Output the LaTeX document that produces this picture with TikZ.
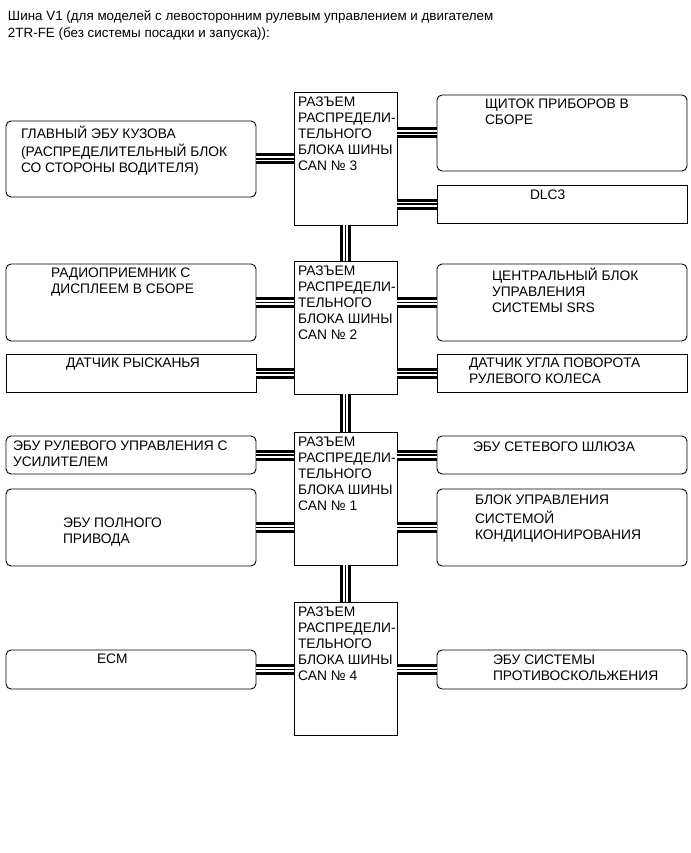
\documentclass[tikz,border=0pt]{standalone}
\usepackage{fontspec}
\setmainfont{Liberation Sans}
\begin{document}
\begin{tikzpicture}[x=1pt,y=-1pt,
  every node/.style={inner sep=0pt, outer sep=0pt},
  rbox/.style={draw, line width=0.9pt, rounded corners=5pt, anchor=north west},
  sbox/.style={draw, line width=0.9pt, anchor=north west},
  canbox/.style={draw, line width=0.9pt, anchor=north west, minimum width=103pt, minimum height=133pt},
  txt/.style={anchor=north west, align=left, font=\fontsize{13.8}{16}\selectfont},
  ttl/.style={anchor=north west, align=left, font=\fontsize{13.4}{17}\selectfont},
  bus/.style={draw=black, line width=11pt, postaction={draw=white, line width=5pt}, postaction={draw=black, line width=1.6pt}}
]
\useasboundingbox (0,0) rectangle (690,853);
% title
\node[ttl] (title) at (8,8.6) {\strut Шина V1 (для моделей с левосторонним рулевым управлением и двигателем\\2TR-FE (без системы посадки и запуска)):};

% CAN junction boxes
\node[canbox] (can3) at (294,92) {};
\node[canbox] (can2) at (294,261) {};
\node[canbox] (can1) at (294,432) {};
\node[canbox] (can4) at (294,602) {};
\node[txt] (t3) at (298,95.4) {\strut РАЗЪЕМ\\РАСПРЕДЕЛИ-\\ТЕЛЬНОГО\\БЛОКА ШИНЫ\\CAN № 3};
\node[txt] (t2) at (298,264.4) {\strut РАЗЪЕМ\\РАСПРЕДЕЛИ-\\ТЕЛЬНОГО\\БЛОКА ШИНЫ\\CAN № 2};
\node[txt] (t1) at (298,435.4) {\strut РАЗЪЕМ\\РАСПРЕДЕЛИ-\\ТЕЛЬНОГО\\БЛОКА ШИНЫ\\CAN № 1};
\node[txt] (t4) at (298,605.4) {\strut РАЗЪЕМ\\РАСПРЕДЕЛИ-\\ТЕЛЬНОГО\\БЛОКА ШИНЫ\\CAN № 4};

% left boxes
\node[rbox, minimum width=250pt, minimum height=76pt] (gl) at (6,121) {};
\node[rbox, minimum width=250pt, minimum height=77pt] (radio) at (6,264) {};
\node[sbox, minimum width=250pt, minimum height=38pt] (rys) at (6,354) {};
\node[rbox, minimum width=250pt, minimum height=38pt] (rul) at (6,436) {};
\node[rbox, minimum width=250pt, minimum height=77pt] (poln) at (6,489) {};
\node[rbox, minimum width=250pt, minimum height=39pt] (ecm) at (6,650) {};

% right boxes
\node[rbox, minimum width=250pt, minimum height=76pt] (sch) at (437,95) {};
\node[sbox, minimum width=250pt, minimum height=38pt] (dlc) at (437,185) {};
\node[rbox, minimum width=250pt, minimum height=77pt] (srs) at (437,264) {};
\node[sbox, minimum width=250pt, minimum height=38pt] (ugl) at (437,354) {};
\node[rbox, minimum width=250pt, minimum height=38pt] (shl) at (437,436) {};
\node[rbox, minimum width=250pt, minimum height=77pt] (kond) at (437,489) {};
\node[rbox, minimum width=250pt, minimum height=39pt] (prot) at (437,650) {};

% texts
\node[txt] (tgl) at (21,125.7) {\strut ГЛАВНЫЙ ЭБУ КУЗОВА\\(РАСПРЕДЕЛИТЕЛЬНЫЙ БЛОК\\СО СТОРОНЫ ВОДИТЕЛЯ)};
\node[txt] (tradio) at (51,266.7) {\strut РАДИОПРИЕМНИК С\\ДИСПЛЕЕМ В СБОРЕ};
\node[txt] (trys) at (66,356.7) {\strut ДАТЧИК РЫСКАНЬЯ};
\node[txt] (trul) at (13,439.7) {\strut ЭБУ РУЛЕВОГО УПРАВЛЕНИЯ С\\УСИЛИТЕЛЕМ};
\node[txt] (tpoln) at (63,516.7) {\strut ЭБУ ПОЛНОГО\\ПРИВОДА};
\node[txt] (tecm) at (97,652.7) {\strut ECM};
\node[txt] (tsch) at (485,97.7) {\strut ЩИТОК ПРИБОРОВ В\\СБОРЕ};
\node[txt] (tdlc) at (530,188.7) {\strut DLC3};
\node[txt] (tsrs) at (492,267.7) {\strut ЦЕНТРАЛЬНЫЙ БЛОК\\УПРАВЛЕНИЯ\\СИСТЕМЫ SRS};
\node[txt] (tugl) at (469,356.7) {\strut ДАТЧИК УГЛА ПОВОРОТА\\РУЛЕВОГО КОЛЕСА};
\node[txt] (tshl) at (473,440.7) {\strut ЭБУ СЕТЕВОГО ШЛЮЗА};
\node[txt] (tkond) at (475,493.7) {\strut БЛОК УПРАВЛЕНИЯ\\СИСТЕМОЙ\\КОНДИЦИОНИРОВАНИЯ};
\node[txt] (tprot) at (493,653.7) {\strut ЭБУ СИСТЕМЫ\\ПРОТИВОСКОЛЬЖЕНИЯ};

% bus connectors
\draw[bus] (can3.south) -- (can2.north);
\draw[bus] (can2.south) -- (can1.north);
\draw[bus] (can1.south) -- (can4.north);

\draw[bus] (gl.east) -- (gl.east -| can3.west);
\draw[bus] (sch.west) -- (sch.west -| can3.east);
\draw[bus] (dlc.west) -- (dlc.west -| can3.east);
\draw[bus] (radio.east) -- (radio.east -| can2.west);
\draw[bus] (rys.east) -- (rys.east -| can2.west);
\draw[bus] (srs.west) -- (srs.west -| can2.east);
\draw[bus] (ugl.west) -- (ugl.west -| can2.east);
\draw[bus] (rul.east) -- (rul.east -| can1.west);
\draw[bus] (poln.east) -- (poln.east -| can1.west);
\draw[bus] (shl.west) -- (shl.west -| can1.east);
\draw[bus] (kond.west) -- (kond.west -| can1.east);
\draw[bus] (ecm.east) -- (ecm.east -| can4.west);
\draw[bus] (prot.west) -- (prot.west -| can4.east);
\end{tikzpicture}
\end{document}
